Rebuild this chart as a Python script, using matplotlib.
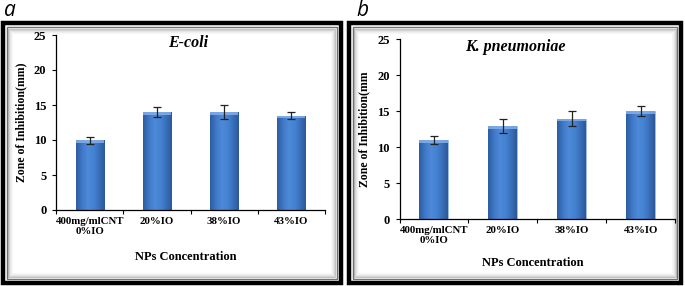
import numpy as np
import matplotlib
matplotlib.use("Agg")
import matplotlib.pyplot as plt
from matplotlib.patches import Rectangle
from matplotlib.colors import LinearSegmentedColormap

# ---- data ----
categories = ["400mg/mlCNT\n0%IO", "20%IO", "38%IO", "43%IO"]
ecoli_values = [10, 14, 14, 13.5]
ecoli_errors = [0.5, 0.7, 1.0, 0.5]
kpn_values = [11, 13, 14, 15]
kpn_errors = [0.6, 1.0, 1.0, 0.7]
yticks = [0, 5, 10, 15, 20, 25]

W, H = 685, 286
fig = plt.figure(figsize=(W / 100, H / 100), dpi=100)
fig.patch.set_facecolor("white")

serif = ["Liberation Serif", "DejaVu Serif"]


def fx(x):
    return x / W


def fy(y):
    return 1 - y / H


def frame(x0, x1, y0, y1):
    # outer black border
    fig.add_artist(Rectangle((fx(x0), fy(y1)), fx(x1 - x0), (y1 - y0) / H,
                             transform=fig.transFigure, fill=False,
                             edgecolor="black", linewidth=3.2, zorder=0))
    # thin gray line inside
    g0 = 4
    fig.add_artist(Rectangle((fx(x0 + g0), fy(y1 - g0)), fx(x1 - x0 - 2 * g0),
                             (y1 - y0 - 2 * g0) / H,
                             transform=fig.transFigure, fill=False,
                             edgecolor="#707070", linewidth=1.0, zorder=0))
    # inner shadow gradient
    for i, a in enumerate([0.45, 0.3, 0.18, 0.1, 0.05]):
        d = g0 + 1.5 + i
        fig.add_artist(Rectangle((fx(x0 + d), fy(y1 - d)), fx(x1 - x0 - 2 * d),
                                 (y1 - y0 - 2 * d) / H,
                                 transform=fig.transFigure, fill=False,
                                 edgecolor="#808080", alpha=a, linewidth=0.8,
                                 zorder=0))


frame(2.5, 340.5, 23, 282.5)
frame(348.5, 681, 23, 282.5)

fig.text(fx(4), fy(0.5), "a", fontsize=15, style="italic", family="Open Sans",
         va="top", ha="left")
fig.text(fx(356), fy(0.5), "b", fontsize=15, style="italic", family="Open Sans",
         va="top", ha="left")

cmap = LinearSegmentedColormap.from_list(
    "barg", ["#2c5d9f", "#3f78c6", "#4d89d8", "#4584d3", "#3a70bb", "#2b5998"])
grad = np.linspace(0, 1, 64).reshape(1, -1)


def panel(rect, values, errors, title, ylabel, title_xy, xlabel_y):
    ax = fig.add_axes(rect)
    x = np.arange(len(categories))
    bars = ax.bar(x, values, width=0.42, color="#3f78c6",
                  edgecolor="#9fbde6", linewidth=0.4, zorder=2)
    for b in bars:
        bx, by = b.get_x(), b.get_y()
        bw, bh = b.get_width(), b.get_height()
        im = ax.imshow(grad, cmap=cmap, aspect="auto",
                       extent=(bx, bx + bw, by, by + bh), zorder=2.1)
        im.set_clip_path(b)
        # light top cap
        ax.add_patch(Rectangle((bx, by + bh - 0.4), bw, 0.4,
                               facecolor="#86afe8", edgecolor="none",
                               alpha=0.85, zorder=2.2))
    ax.errorbar(x, values, yerr=errors, fmt="none", ecolor="#222222",
                elinewidth=0.9, capsize=3.2, capthick=0.9, zorder=3)
    ax.set_xlim(-0.5, len(categories) - 0.5)
    ax.set_ylim(0, 25)
    ax.set_yticks(yticks)
    ax.set_yticklabels([str(t) for t in yticks], family=serif,
                       fontweight="bold", fontsize=9)
    ax.set_xticks(x)
    ax.set_xticklabels(categories, family=serif, fontweight="bold",
                       fontsize=7.8, linespacing=1.1)
    ax.set_xticks(np.arange(-0.5, len(categories), 1.0), minor=True)
    ax.tick_params(axis="x", which="major", length=0, pad=5)
    ax.tick_params(axis="x", which="minor", length=3, direction="out",
                   width=0.8)
    ax.tick_params(axis="y", length=3, direction="out", width=0.8, pad=4)
    for s in ["top", "right"]:
        ax.spines[s].set_visible(False)
    for s in ["left", "bottom"]:
        ax.spines[s].set_linewidth(0.9)
    ax.set_facecolor("none")
    ax.set_ylabel(ylabel, family=serif, fontweight="bold", fontsize=8.5,
                  labelpad=5)
    fig.text(fx(title_xy[0]), fy(title_xy[1]), title, family=serif,
             fontweight="bold", style="italic", fontsize=11.5,
             ha="center", va="center")
    fig.text(fx(rect[0] * W + rect[2] * W / 2 - 5), fy(xlabel_y),
             "NPs Concentration", family=serif, fontweight="bold",
             fontsize=9, ha="center", va="center")
    return ax


panel([fx(56), fy(210), (325 - 56) / W, (210 - 35) / H],
      ecoli_values, ecoli_errors, "E-coli", "Zone of Inhibition(mm)",
      (188, 43), 257)
panel([fx(399.5), fy(219.3), (675 - 399.5) / W, (219.3 - 39.3) / H],
      kpn_values, kpn_errors, "K. pneumoniae", "Zone of Inhibition(mm",
      (515, 47), 263)

fig.savefig("out.png", dpi=100, facecolor="white")
